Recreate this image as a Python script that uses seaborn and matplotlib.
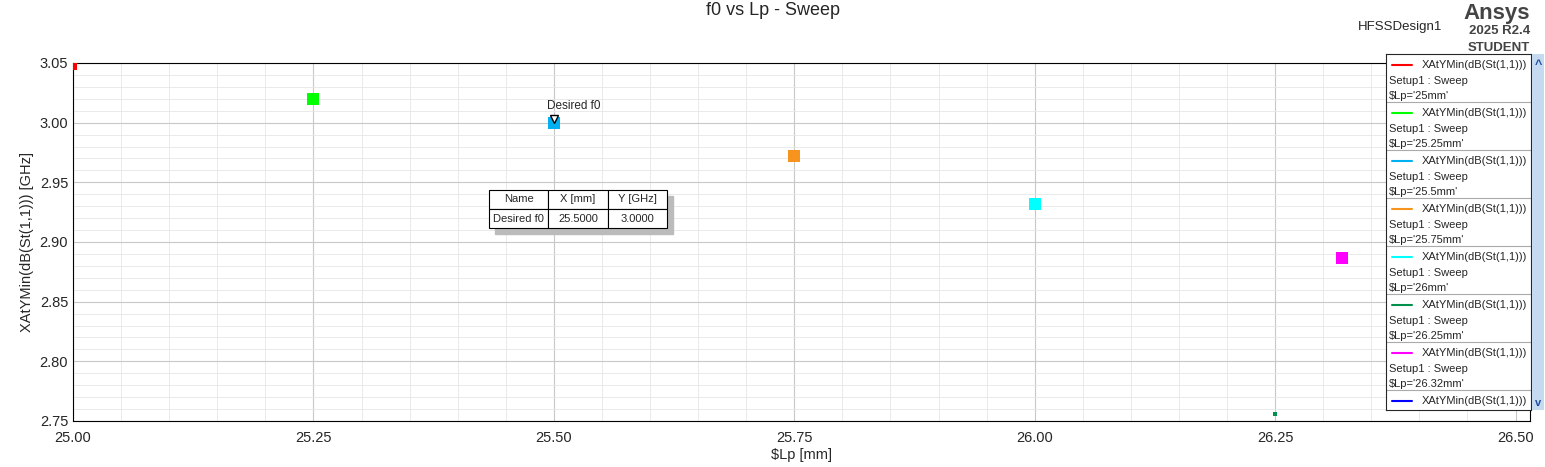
import numpy as np
import pandas as pd
import seaborn as sns
import matplotlib.pyplot as plt
from matplotlib.ticker import MultipleLocator

lp_values = [25.00, 25.25, 25.50, 25.75, 26.00, 26.25, 26.32]
f0_values = [3.0475, 3.020, 3.000, 2.972, 2.932, 2.756, 2.887]
labels = ["$Lp='25mm'", "$Lp='25.25mm'", "$Lp='25.5mm'", "$Lp='25.75mm'",
          "$Lp='26mm'", "$Lp='26.25mm'", "$Lp='26.32mm'"]
colors = ["#ff0000", "#00ff00", "#00b0f0", "#f7941d", "#00ffff", "#008f4c", "#ff00ff"]
sizes = [40, 70, 70, 70, 70, 6, 70]
legend_labels = labels + ["$Lp='26.5mm'"]
legend_colors = colors + ["#0000ff"]

sns.set_style("white")
plt.rcParams['font.family'] = ['Liberation Sans', 'DejaVu Sans']
plt.rcParams['text.parse_math'] = False

df = pd.DataFrame({"Lp": lp_values, "f0": f0_values, "name": labels})

fig = plt.figure(figsize=(15.45, 4.67), dpi=100)
ax = fig.add_axes([73 / 1545, 1 - 421 / 467, (1530 - 73) / 1545, (421 - 63) / 467])
for i, row in df.iterrows():
    ax.scatter(row["Lp"], row["f0"], marker="s", s=sizes[i], color=colors[i],
               zorder=3, clip_on=True, linewidths=0)

ax.set_xlim(25.0, 26.515)
ax.set_ylim(2.75, 3.05)
ax.xaxis.set_major_locator(MultipleLocator(0.25))
ax.xaxis.set_minor_locator(MultipleLocator(0.05))
ax.yaxis.set_major_locator(MultipleLocator(0.05))
ax.yaxis.set_minor_locator(MultipleLocator(0.01))
ax.set_xticks([25.0, 25.25, 25.5, 25.75, 26.0, 26.25, 26.5])
ax.set_xticklabels(["25.00", "25.25", "25.50", "25.75", "26.00", "26.25", "26.50"])
ax.grid(which="major", color="#c8c8c8", lw=0.8)
ax.grid(which="minor", color="#e6e6e6", lw=0.6)
ax.tick_params(which="both", direction="in", length=5, labelsize=10.5)
ax.tick_params(axis="x", pad=7)
for s in ax.spines.values():
    s.set_color("black")
ax.set_xlabel("$Lp [mm]", fontsize=10.5, labelpad=2)
ax.set_ylabel("XAtYMin(dB(St(1,1))) [GHz]", fontsize=10.5)

# marker annotation
ax.plot(25.5, 3.003, marker="v", mfc="white", mec="black", ms=6, zorder=4)
ax.text(25.493, 3.009, "Desired f0", fontsize=8.5, ha="left", va="bottom")

# marker table with shadow
W = 1457
H = 358
tx, ty, tw, th = (489 - 73) / W, (421 - 228) / H, (667 - 489) / W, 38 / H
ax.add_patch(plt.Rectangle((tx + 6 / W, ty - 6 / H), tw, th, transform=ax.transAxes,
                           color="#bbbbbb", zorder=5))
tab = ax.table(cellText=[["Name", "X [mm]", "Y [GHz]"], ["Desired f0", "25.5000", "3.0000"]],
               cellLoc="center", bbox=[tx, ty, tw, th])
tab.set_zorder(6)
tab.auto_set_font_size(False)
tab.set_fontsize(8)
for c in tab.get_celld().values():
    c.set_linewidth(0.8)
    c.set_facecolor("white")

fig.text(0.5, 0.995, "f0 vs Lp - Sweep", ha="center", va="top", fontsize=13)
fig.text(1400 / 1545, 1 - 27 / 467, "HFSSDesign1", ha="center", va="center", fontsize=9.5)
fig.text(1530 / 1545, 1 - 13 / 467, "Ansys", ha="right", va="center", fontsize=16,
         fontweight="bold", color="#444444")
fig.text(1530 / 1545, 1 - 31 / 467, "2025 R2.4", ha="right", va="center", fontsize=9.5,
         fontweight="bold", color="#444444")
fig.text(1530 / 1545, 1 - 48 / 467, "STUDENT", ha="right", va="center", fontsize=9.5,
         fontweight="bold", color="#444444")

# legend box
lax = fig.add_axes([1386 / 1545, 1 - 410 / 467, (1531 - 1386) / 1545, (410 - 54) / 467])
lax.set_xlim(0, 145)
lax.set_ylim(356, 0)
lax.set_xticks([])
lax.set_yticks([])
for i, (lab, col) in enumerate(zip(legend_labels, legend_colors)):
    y0 = 4 + i * 48
    lax.plot([6, 26], [y0 + 7, y0 + 7], color=col, lw=1.5)
    lax.text(141, y0 + 7, "XAtYMin(dB(St(1,1)))", ha="right", va="center", fontsize=8)
    if i < 7:
        lax.text(3, y0 + 23, "Setup1 : Sweep", va="center", fontsize=8)
        lax.text(3, y0 + 38, lab, va="center", fontsize=8)
        lax.axhline(y0 + 44, color="#aaaaaa", lw=0.8)
sb = fig.add_axes([1532 / 1545, 1 - 410 / 467, 12 / 1545, (410 - 54) / 467])
sb.set_facecolor("#c5d9f1")
sb.set_xticks([])
sb.set_yticks([])
for s in sb.spines.values():
    s.set_visible(False)
sb.text(0.5, 0.97, "^", ha="center", va="center", color="#1f4e9f", fontsize=9, fontweight="bold")
sb.text(0.5, 0.02, "v", ha="center", va="center", color="#1f4e9f", fontsize=8, fontweight="bold")

fig.savefig("out.png", dpi=100)
